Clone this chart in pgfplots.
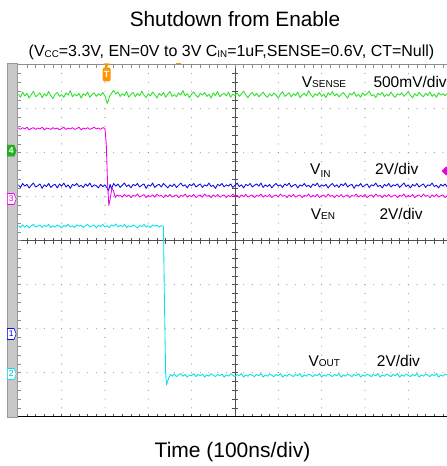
\documentclass[border=0pt]{standalone}
\usepackage{fontspec}
\setmainfont{Liberation Sans}
\usepackage{pgfplots}
\pgfplotsset{compat=1.18}

\definecolor{chgreen}{RGB}{40,225,40}
\definecolor{chblue}{RGB}{10,10,225}
\definecolor{chmag}{RGB}{235,0,235}
\definecolor{chcyan}{RGB}{0,225,235}
\definecolor{grat}{RGB}{140,140,140}
\definecolor{gratdark}{RGB}{80,80,80}
\definecolor{sidebar}{RGB}{200,200,200}
\definecolor{trig}{RGB}{255,150,0}

\newcommand{\sub}[1]{\raisebox{-0.1ex}{\fontsize{9.8}{10}\selectfont #1}}
\newcommand{\lowcaps}[1]{{\fontsize{10}{10}\selectfont #1}}

\begin{document}
\begin{tikzpicture}
\useasboundingbox (0,0) rectangle (447pt,466pt);

% side bar of the scope screen
\fill[sidebar] (6.7pt,49pt) rectangle (16.7pt,403pt);
\draw[gray!80, line width=0.4pt] (6.7pt,49pt) rectangle (16.7pt,403pt);

% graticule: 10 x 8 divisions, origin at the left end of the centre line
\begin{scope}[shift={(18.3pt,225.3pt)}, x=43.333pt, y=44pt]
  \foreach \gx in {1,2,3,4,6,7,8,9,10}
    \foreach \gy in {-3.8,-3.6,...,3.81}
      \fill[grat] (\gx,\gy) circle (0.55pt);
  \foreach \gy in {-3,-2,-1,1,2,3}
    \foreach \gx in {0.2,0.4,...,9.99}
      \fill[grat] (\gx,\gy) circle (0.55pt);
  % centre cross with minor ticks
  \draw[gratdark, line width=0.8pt] (0,0) -- (10,0);
  \draw[gratdark, line width=0.8pt] (5,-4) -- (5,4);
  \foreach \gx in {0.2,0.4,...,9.99}
    \draw[gratdark, line width=0.7pt] (\gx,-0.07) -- (\gx,0.07);
  \foreach \gy in {-3.8,-3.6,...,3.81}
    \draw[gratdark, line width=0.7pt] (4.93,\gy) -- (5.07,\gy);
  % edge ticks
  \draw[grat, line width=0.6pt] (0,4) -- (10,4);
  \foreach \gx in {0.2,0.4,...,9.99} {
    \draw[grat, line width=0.6pt] (\gx,4) -- (\gx,3.93);
    \draw[gratdark, line width=0.6pt] (\gx,-4) -- (\gx,-3.93);
  }
  \foreach \gy in {-3.8,-3.6,...,3.81}
    \draw[grat, line width=0.6pt] (0,\gy) -- (0.07,\gy);
  \draw[black, line width=1.6pt] (0,-4) -- (10.5,-4);
\end{scope}

\begin{axis}[
  at={(18.3pt,49.3pt)}, anchor=south west,
  scale only axis, width=428.7pt, height=352pt,
  xmin=0, xmax=9.894, ymin=-4, ymax=4,
  axis lines=none, clip=true,
  every axis plot/.append style={line width=0.85pt, line join=round}
]
% V_SENSE (channel 4, 500 mV/div)
\addplot[chgreen] coordinates {
(0.00,3.33) (0.05,3.26) (0.10,3.38) (0.15,3.29) (0.20,3.35) (0.25,3.24) (0.30,3.32) (0.35,3.40) (0.40,3.27) (0.45,3.31)
(0.50,3.36) (0.55,3.25) (0.60,3.34) (0.65,3.29) (0.70,3.39) (0.75,3.30) (0.80,3.23) (0.85,3.33) (0.90,3.37) (0.95,3.28)
(1.00,3.32) (1.05,3.26) (1.10,3.36) (1.15,3.31) (1.20,3.41) (1.25,3.27) (1.30,3.33) (1.35,3.29) (1.40,3.35) (1.45,3.24)
(1.50,3.34) (1.55,3.30) (1.60,3.38) (1.65,3.26) (1.70,3.32) (1.75,3.36) (1.80,3.28) (1.85,3.34) (1.90,3.30) (1.95,3.37)
(2.00,3.29) (2.03,3.20) (2.05,3.12) (2.08,3.18) (2.10,3.27) (2.15,3.35) (2.20,3.42) (2.25,3.33) (2.30,3.38) (2.35,3.28)
(2.40,3.34) (2.45,3.30) (2.50,3.39) (2.55,3.26) (2.60,3.33) (2.65,3.37) (2.70,3.27) (2.75,3.35) (2.80,3.29) (2.85,3.40)
(2.90,3.31) (2.95,3.25) (3.00,3.34) (3.05,3.29) (3.10,3.38) (3.15,3.32) (3.20,3.24) (3.25,3.35) (3.30,3.30) (3.35,3.37)
(3.40,3.26) (3.45,3.33) (3.50,3.39) (3.55,3.28) (3.60,3.32) (3.65,3.27) (3.70,3.36) (3.75,3.31) (3.80,3.41) (3.85,3.29)
(3.90,3.34) (3.95,3.25) (4.00,3.33) (4.05,3.38) (4.10,3.30) (4.15,3.26) (4.20,3.35) (4.25,3.31) (4.30,3.37) (4.35,3.28)
(4.40,3.33) (4.45,3.24) (4.50,3.36) (4.55,3.30) (4.60,3.39) (4.65,3.27) (4.70,3.32) (4.75,3.35) (4.80,3.29) (4.85,3.38)
(4.90,3.26) (4.95,3.33) (5.00,3.30) (5.05,3.36) (5.10,3.28) (5.15,3.34) (5.20,3.40) (5.25,3.31) (5.30,3.25) (5.35,3.33)
(5.40,3.37) (5.45,3.29) (5.50,3.35) (5.55,3.27) (5.60,3.32) (5.65,3.38) (5.70,3.30) (5.75,3.26) (5.80,3.34) (5.85,3.29)
(5.90,3.36) (5.95,3.31) (6.00,3.24) (6.05,3.33) (6.10,3.39) (6.15,3.28) (6.20,3.32) (6.25,3.36) (6.30,3.27) (6.35,3.34)
(6.40,3.30) (6.45,3.38) (6.50,3.25) (6.55,3.31) (6.60,3.35) (6.65,3.29) (6.70,3.41) (6.75,3.32) (6.80,3.26) (6.85,3.34)
(6.90,3.30) (6.95,3.37) (7.00,3.28) (7.05,3.33) (7.10,3.25) (7.15,3.36) (7.20,3.31) (7.25,3.39) (7.30,3.29) (7.35,3.34)
(7.40,3.27) (7.45,3.32) (7.50,3.37) (7.55,3.30) (7.60,3.24) (7.65,3.35) (7.70,3.31) (7.75,3.38) (7.80,3.28) (7.85,3.33)
(7.90,3.26) (7.95,3.36) (8.00,3.30) (8.05,3.34) (8.10,3.40) (8.15,3.29) (8.20,3.32) (8.25,3.25) (8.30,3.35) (8.35,3.31)
(8.40,3.37) (8.45,3.27) (8.50,3.33) (8.55,3.29) (8.60,3.38) (8.65,3.30) (8.70,3.26) (8.75,3.34) (8.80,3.31) (8.85,3.36)
(8.90,3.28) (8.95,3.33) (9.00,3.39) (9.05,3.30) (9.10,3.25) (9.15,3.34) (9.20,3.29) (9.25,3.37) (9.30,3.31) (9.35,3.27)
(9.40,3.35) (9.45,3.30) (9.50,3.38) (9.55,3.28) (9.60,3.33) (9.65,3.26) (9.70,3.36) (9.75,3.31) (9.80,3.34) (9.85,3.29)
(9.90,3.35)
};
% V_IN (channel 1, 2 V/div)
\addplot[chblue] coordinates {
(0.00,1.27) (0.05,1.21) (0.10,1.30) (0.15,1.24) (0.20,1.28) (0.25,1.20) (0.30,1.26) (0.35,1.31) (0.40,1.22) (0.45,1.25)
(0.50,1.29) (0.55,1.19) (0.60,1.27) (0.65,1.23) (0.70,1.30) (0.75,1.21) (0.80,1.26) (0.85,1.28) (0.90,1.20) (0.95,1.29)
(1.00,1.24) (1.05,1.31) (1.10,1.22) (1.15,1.27) (1.20,1.19) (1.25,1.28) (1.30,1.25) (1.35,1.30) (1.40,1.23) (1.45,1.26)
(1.50,1.21) (1.55,1.29) (1.60,1.24) (1.65,1.31) (1.70,1.22) (1.75,1.27) (1.80,1.25) (1.85,1.20) (1.90,1.28) (1.95,1.23)
(2.00,1.27) (2.05,1.20) (2.08,1.13) (2.12,1.28) (2.15,1.18) (2.20,1.30) (2.25,1.24) (2.30,1.29) (2.35,1.21) (2.40,1.26)
(2.45,1.31) (2.50,1.23) (2.55,1.27) (2.60,1.20) (2.65,1.28) (2.70,1.25) (2.75,1.30) (2.80,1.22) (2.85,1.26) (2.90,1.29)
(2.95,1.19) (3.00,1.27) (3.05,1.24) (3.10,1.31) (3.15,1.21) (3.20,1.26) (3.25,1.28) (3.30,1.22) (3.35,1.30) (3.40,1.25)
(3.45,1.20) (3.50,1.27) (3.55,1.23) (3.60,1.29) (3.65,1.21) (3.70,1.26) (3.75,1.31) (3.80,1.24) (3.85,1.27) (3.90,1.20)
(3.95,1.28) (4.00,1.25) (4.05,1.30) (4.10,1.22) (4.15,1.26) (4.20,1.29) (4.25,1.21) (4.30,1.27) (4.35,1.24) (4.40,1.31)
(4.45,1.23) (4.50,1.26) (4.55,1.19) (4.60,1.28) (4.65,1.25) (4.70,1.30) (4.75,1.22) (4.80,1.27) (4.85,1.24) (4.90,1.29)
(4.95,1.21) (5.00,1.26) (5.05,1.31) (5.10,1.23) (5.15,1.27) (5.20,1.20) (5.25,1.28) (5.30,1.25) (5.35,1.30) (5.40,1.22)
(5.45,1.26) (5.50,1.29) (5.55,1.24) (5.60,1.31) (5.65,1.21) (5.70,1.27) (5.75,1.23) (5.80,1.28) (5.85,1.20) (5.90,1.26)
(5.95,1.30) (6.00,1.24) (6.05,1.27) (6.10,1.21) (6.15,1.29) (6.20,1.25) (6.25,1.31) (6.30,1.22) (6.35,1.26) (6.40,1.28)
(6.45,1.20) (6.50,1.27) (6.55,1.24) (6.60,1.30) (6.65,1.23) (6.70,1.26) (6.75,1.21) (6.80,1.29) (6.85,1.25) (6.90,1.31)
(6.95,1.22) (7.00,1.27) (7.05,1.24) (7.10,1.28) (7.15,1.20) (7.20,1.26) (7.25,1.30) (7.30,1.23) (7.35,1.27) (7.40,1.21)
(7.45,1.29) (7.50,1.25) (7.55,1.31) (7.60,1.22) (7.65,1.26) (7.70,1.28) (7.75,1.19) (7.80,1.27) (7.85,1.24) (7.90,1.30)
(7.95,1.22) (8.00,1.26) (8.05,1.29) (8.10,1.21) (8.15,1.27) (8.20,1.25) (8.25,1.31) (8.30,1.23) (8.35,1.26) (8.40,1.20)
(8.45,1.28) (8.50,1.24) (8.55,1.30) (8.60,1.22) (8.65,1.27) (8.70,1.25) (8.75,1.29) (8.80,1.21) (8.85,1.26) (8.90,1.31)
(8.95,1.23) (9.00,1.27) (9.05,1.20) (9.10,1.28) (9.15,1.24) (9.20,1.30) (9.25,1.22) (9.30,1.26) (9.35,1.29) (9.40,1.21)
(9.45,1.27) (9.50,1.25) (9.55,1.31) (9.60,1.23) (9.65,1.26) (9.70,1.20) (9.75,1.28) (9.80,1.24) (9.85,1.29) (9.90,1.22)
};
% V_EN (channel 3, 2 V/div)
\addplot[chmag] coordinates {
(0.00,2.56) (0.05,2.53) (0.10,2.57) (0.15,2.54) (0.20,2.58) (0.25,2.52) (0.30,2.55) (0.35,2.57) (0.40,2.53) (0.45,2.56)
(0.50,2.54) (0.55,2.58) (0.60,2.52) (0.65,2.56) (0.70,2.55) (0.75,2.53) (0.80,2.57) (0.85,2.54) (0.90,2.56) (0.95,2.52)
(1.00,2.55) (1.05,2.58) (1.10,2.53) (1.15,2.56) (1.20,2.54) (1.25,2.57) (1.30,2.53) (1.35,2.55) (1.40,2.58) (1.45,2.52)
(1.50,2.56) (1.55,2.54) (1.60,2.57) (1.65,2.53) (1.70,2.55) (1.75,2.58) (1.80,2.54) (1.85,2.56) (1.90,2.53) (1.95,2.57)
(2.00,2.55) (2.03,2.20) (2.06,1.30) (2.09,0.80) (2.12,0.95) (2.16,1.20) (2.20,1.12) (2.24,0.98) (2.28,1.04) (2.32,1.01)
(2.35,1.03) (2.40,0.99) (2.45,1.05) (2.50,1.00) (2.55,1.04) (2.60,0.98) (2.65,1.03) (2.70,1.01) (2.75,1.06) (2.80,0.99)
(2.85,1.02) (2.90,1.05) (2.95,0.98) (3.00,1.03) (3.05,1.00) (3.10,1.04) (3.15,0.99) (3.20,1.06) (3.25,1.01) (3.30,1.03)
(3.35,0.98) (3.40,1.04) (3.45,1.00) (3.50,1.05) (3.55,0.99) (3.60,1.02) (3.65,1.04) (3.70,0.98) (3.75,1.03) (3.80,1.01)
(3.85,1.06) (3.90,0.99) (3.95,1.03) (4.00,1.00) (4.05,1.05) (4.10,0.98) (4.15,1.02) (4.20,1.04) (4.25,0.99) (4.30,1.06)
(4.35,1.01) (4.40,1.03) (4.45,0.98) (4.50,1.04) (4.55,1.00) (4.60,1.05) (4.65,0.99) (4.70,1.02) (4.75,1.04) (4.80,0.98)
(4.85,1.03) (4.90,1.00) (4.95,1.06) (5.00,1.01) (5.05,1.03) (5.10,0.98) (5.15,1.04) (5.20,1.00) (5.25,1.05) (5.30,0.99)
(5.35,1.02) (5.40,1.04) (5.45,0.98) (5.50,1.03) (5.55,1.01) (5.60,1.06) (5.65,0.99) (5.70,1.03) (5.75,1.00) (5.80,1.05)
(5.85,0.98) (5.90,1.02) (5.95,1.04) (6.00,0.99) (6.05,1.06) (6.10,1.01) (6.15,1.03) (6.20,0.98) (6.25,1.04) (6.30,1.00)
(6.35,1.05) (6.40,0.99) (6.45,1.02) (6.50,1.04) (6.55,0.98) (6.60,1.03) (6.65,1.01) (6.70,1.06) (6.75,0.99) (6.80,1.03)
(6.85,1.00) (6.90,1.05) (6.95,0.98) (7.00,1.02) (7.05,1.04) (7.10,0.99) (7.15,1.06) (7.20,1.01) (7.25,1.03) (7.30,0.98)
(7.35,1.04) (7.40,1.00) (7.45,1.05) (7.50,0.99) (7.55,1.02) (7.60,1.04) (7.65,0.98) (7.70,1.03) (7.75,1.01) (7.80,1.06)
(7.85,0.99) (7.90,1.03) (7.95,1.00) (8.00,1.05) (8.05,0.98) (8.10,1.02) (8.15,1.04) (8.20,0.99) (8.25,1.06) (8.30,1.01)
(8.35,1.03) (8.40,0.98) (8.45,1.04) (8.50,1.00) (8.55,1.05) (8.60,0.99) (8.65,1.02) (8.70,1.04) (8.75,0.98) (8.80,1.03)
(8.85,1.01) (8.90,1.06) (8.95,0.99) (9.00,1.03) (9.05,1.00) (9.10,1.05) (9.15,0.98) (9.20,1.02) (9.25,1.04) (9.30,0.99)
(9.35,1.06) (9.40,1.01) (9.45,1.03) (9.50,0.98) (9.55,1.04) (9.60,1.00) (9.65,1.05) (9.70,0.99) (9.75,1.02) (9.80,1.04)
(9.85,0.98) (9.90,1.03)
};
% V_OUT (channel 2, 2 V/div)
\addplot[chcyan] coordinates {
(0.00,0.34) (0.05,0.30) (0.10,0.36) (0.15,0.31) (0.20,0.35) (0.25,0.29) (0.30,0.34) (0.35,0.37) (0.40,0.31) (0.45,0.33)
(0.50,0.36) (0.55,0.30) (0.60,0.35) (0.65,0.32) (0.70,0.37) (0.75,0.30) (0.80,0.34) (0.85,0.31) (0.90,0.36) (0.95,0.33)
(1.00,0.29) (1.05,0.35) (1.10,0.32) (1.15,0.37) (1.20,0.31) (1.25,0.34) (1.30,0.30) (1.35,0.36) (1.40,0.33) (1.45,0.35)
(1.50,0.30) (1.55,0.34) (1.60,0.37) (1.65,0.31) (1.70,0.33) (1.75,0.36) (1.80,0.29) (1.85,0.35) (1.90,0.32) (1.95,0.37)
(2.00,0.31) (2.05,0.34) (2.10,0.30) (2.15,0.36) (2.20,0.33) (2.25,0.38) (2.30,0.31) (2.35,0.35) (2.40,0.32) (2.45,0.37)
(2.50,0.30) (2.55,0.34) (2.60,0.31) (2.65,0.36) (2.70,0.33) (2.75,0.29) (2.80,0.35) (2.85,0.32) (2.90,0.37) (2.95,0.31)
(3.00,0.34) (3.05,0.30) (3.10,0.36) (3.15,0.33) (3.20,0.35) (3.25,0.31) (3.30,0.34) (3.35,0.33)
(3.37,-1.20) (3.40,-3.00) (3.42,-3.28) (3.45,-3.18) (3.48,-3.10) (3.52,-3.04)
(3.55,-3.08) (3.60,-3.03) (3.65,-3.09) (3.70,-3.05) (3.75,-3.02) (3.80,-3.08) (3.85,-3.04) (3.90,-3.10) (3.95,-3.05) (4.00,-3.07)
(4.05,-3.02) (4.10,-3.09) (4.15,-3.04) (4.20,-3.07) (4.25,-3.03) (4.30,-3.10) (4.35,-3.05) (4.40,-3.08) (4.45,-3.02) (4.50,-3.06)
(4.55,-3.09) (4.60,-3.04) (4.65,-3.07) (4.70,-3.03) (4.75,-3.10) (4.80,-3.05) (4.85,-3.08) (4.90,-3.02) (4.95,-3.06) (5.00,-3.09)
(5.05,-3.04) (5.10,-3.07) (5.15,-3.02) (5.20,-3.10) (5.25,-3.05) (5.30,-3.08) (5.35,-3.03) (5.40,-3.06) (5.45,-3.09) (5.50,-3.04)
(5.55,-3.07) (5.60,-3.02) (5.65,-3.10) (5.70,-3.05) (5.75,-3.08) (5.80,-3.03) (5.85,-3.06) (5.90,-3.09) (5.95,-3.04) (6.00,-3.07)
(6.05,-3.02) (6.10,-3.10) (6.15,-3.05) (6.20,-3.08) (6.25,-3.03) (6.30,-3.06) (6.35,-3.09) (6.40,-3.04) (6.45,-3.07) (6.50,-3.02)
(6.55,-3.10) (6.60,-3.05) (6.65,-3.08) (6.70,-3.03) (6.75,-3.06) (6.80,-3.09) (6.85,-3.04) (6.90,-3.07) (6.95,-3.02) (7.00,-3.10)
(7.05,-3.05) (7.10,-3.08) (7.15,-3.03) (7.20,-3.06) (7.25,-3.09) (7.30,-3.04) (7.35,-3.07) (7.40,-3.02) (7.45,-3.10) (7.50,-3.05)
(7.55,-3.08) (7.60,-3.03) (7.65,-3.06) (7.70,-3.09) (7.75,-3.04) (7.80,-3.07) (7.85,-3.02) (7.90,-3.10) (7.95,-3.05) (8.00,-3.08)
(8.05,-3.03) (8.10,-3.06) (8.15,-3.09) (8.20,-3.04) (8.25,-3.07) (8.30,-3.02) (8.35,-3.10) (8.40,-3.05) (8.45,-3.08) (8.50,-3.03)
(8.55,-3.06) (8.60,-3.09) (8.65,-3.04) (8.70,-3.07) (8.75,-3.02) (8.80,-3.10) (8.85,-3.05) (8.90,-3.08) (8.95,-3.03) (9.00,-3.06)
(9.05,-3.09) (9.10,-3.04) (9.15,-3.07) (9.20,-3.02) (9.25,-3.10) (9.30,-3.05) (9.35,-3.08) (9.40,-3.03) (9.45,-3.06) (9.50,-3.09)
(9.55,-3.04) (9.60,-3.07) (9.65,-3.02) (9.70,-3.10) (9.75,-3.05) (9.80,-3.08) (9.85,-3.03) (9.90,-3.06)
};
\end{axis}

% trigger position marker
\fill[trig] (103.7pt,402.5pt) -- (109.7pt,402.5pt) -- (106.7pt,398.5pt) -- cycle;
\fill[trig, rounded corners=1.5pt] (102.7pt,384.5pt) rectangle (110.7pt,398.5pt);
\node[inner sep=0pt, text=white, font=\bfseries\fontsize{9}{9}\selectfont] at (106.7pt,391.5pt) {T};
\fill[trig] (175.5pt,401.6pt) rectangle (180.5pt,403.2pt);
% trigger level marker
\fill[chmag] (446pt,299.5pt) -- (450.5pt,295pt) -- (446pt,290.5pt) -- (441.5pt,295pt) -- cycle;

% channel reference markers
\newcommand{\chmark}[4]{%
  \filldraw[draw=#1, fill=#2, line width=0.6pt]
    (7.3pt,#4+5.5pt) -- (14pt,#4+5.5pt) -- (16.2pt,#4) -- (14pt,#4-5.5pt) -- (7.3pt,#4-5.5pt) -- cycle;}
\chmark{chgreen!70!black}{chgreen!80!black}{}{315.3pt}
\node[inner sep=0pt, text=white, font=\bfseries\fontsize{8.5}{8.5}\selectfont] at (11.3pt,315.3pt) {4};
\chmark{chmag}{white}{}{267pt}
\node[inner sep=0pt, text=chmag, font=\fontsize{8.5}{8.5}\selectfont] at (11.3pt,267pt) {3};
\chmark{chblue}{white}{}{132pt}
\node[inner sep=0pt, text=chblue, font=\fontsize{8.5}{8.5}\selectfont] at (11.3pt,132pt) {1};
\chmark{chcyan}{white}{}{92pt}
\node[inner sep=0pt, text=chcyan!80!black, font=\fontsize{8.5}{8.5}\selectfont] at (11.3pt,92pt) {2};

% channel labels
\begin{scope}[every node/.style={inner sep=0pt, anchor=base west, font=\fontsize{15.5}{18}\selectfont}]
  \node at (301.7pt,378.7pt) {V\lowcaps{SENSE}};
  \node at (373.3pt,378.7pt) {500mV/div};
  \node at (310pt,291.7pt) {V\raisebox{-3pt}{\lowcaps{IN}}};
  \node at (375pt,291.7pt) {2V/div};
  \node at (310.7pt,246.7pt) {V\lowcaps{EN}};
  \node at (379.3pt,246.7pt) {2V/div};
  \node at (308.3pt,99.3pt) {V\lowcaps{OUT}};
  \node at (376.7pt,99.3pt) {2V/div};
\end{scope}

% titles
\node[inner sep=0pt, anchor=base, font=\fontsize{20.8}{24}\selectfont] at (235pt,439.5pt) {Shutdown from Enable};
\node[inner sep=0pt, anchor=base, font=\fontsize{16}{19}\selectfont] at (231.5pt,409.2pt)
  {(V\sub{CC}=3.3V, EN=0V to 3V C\sub{IN}=1uF,SENSE=0.6V, CT=Null)};
\node[inner sep=0pt, anchor=base, font=\fontsize{21}{24}\selectfont] at (232.5pt,8.5pt) {Time (100ns/div)};
\end{tikzpicture}
\end{document}
